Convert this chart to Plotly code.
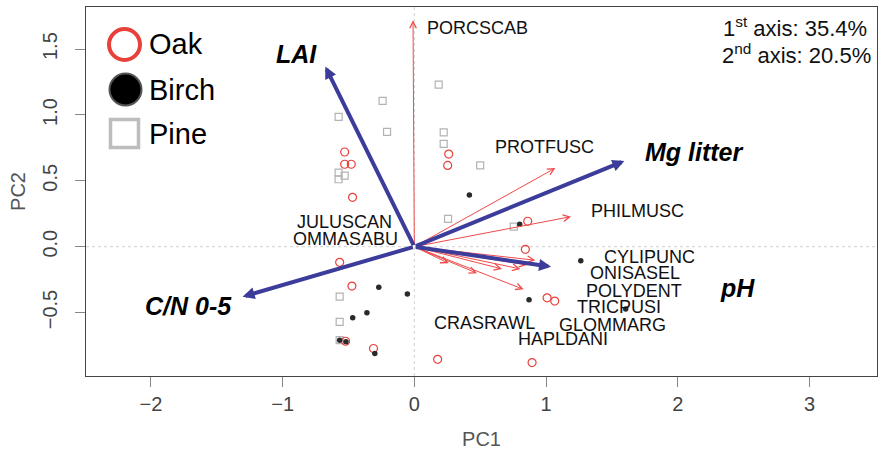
import plotly.graph_objects as go

# ---------------- data ----------------
oak_x = [-0.529, -0.529, -0.479, -0.469, 0.261, 0.253, 0.861, 0.843, 1.008, 1.066,
         -0.567, -0.474, -0.522, -0.310, 0.177, 0.894]
oak_y = [0.719, 0.626, 0.626, 0.375, 0.703, 0.617, 0.193, -0.020, -0.388, -0.413,
         -0.119, -0.299, -0.718, -0.773, -0.855, -0.880]

birch_x = [0.418, 0.800, 1.264, 0.871, -0.053, 1.605, -0.270, -0.360, -0.468, -0.567, -0.519, -0.300]
birch_y = [0.393, 0.170, -0.106, -0.403, -0.360, -0.473, -0.309, -0.502, -0.540, -0.710, -0.722, -0.811]

pine_x = [-0.241, -0.575, -0.207, -0.575, -0.529, -0.575, 0.185, 0.223, 0.223, 0.500,
          0.256, 0.755, -0.567, -0.567, -0.567]
pine_y = [1.107, 0.986, 0.872, 0.562, 0.540, 0.512, 1.230, 0.868, 0.780, 0.617,
          0.211, 0.152, -0.380, -0.571, -0.710]

species = ["PORCSCAB", "PROTFUSC", "PHILMUSC", "JULUSCAN", "OMMASABU", "CYLIPUNC",
           "ONISASEL", "POLYDENT", "TRICPUSI", "GLOMMARG", "HAPLDANI", "CRASRAWL"]
species_x = [-0.010, 1.071, 1.190, -0.020, -0.020, 0.919, 0.856, 0.805, 0.666, 0.830, 0.476, 0.261]
species_y = [1.720, 0.597, 0.228, 0.010, -0.005, -0.103, -0.139, -0.169, -0.169, -0.324, -0.202, -0.126]
species_label_x = [0.478, 0.989, 1.696, -0.531, -0.524, 1.788, 1.678, 1.667, 1.554, 1.503, 1.131, 0.532]
species_label_y = [1.660, 0.755, 0.274, 0.190, 0.055, -0.081, -0.202, -0.337, -0.461, -0.595, -0.704, -0.582]

env = ["LAI", "Mg litter", "C/N 0-5", "pH"]
env_x = [-0.676, 1.595, -1.304, 1.038]
env_y = [1.368, 0.651, -0.380, -0.152]
env_label_x = [-0.896, 2.126, -1.711, 2.456]
env_label_y = [1.464, 0.722, -0.451, -0.316]

axis_var = [35.4, 20.5]

# ---------------- styling ----------------
FONT = "Liberation Sans, Arial, Helvetica, sans-serif"
RED = "#e8413c"
ARROW_RED = "#ef4a4a"
BLUE = "#3c3c9a"
XR = [-2.493, 3.513]
YR = [-0.982, 1.820]
W, H = 880, 453
ML, MR, MT, MB = 86, 3, 7, 77
PW, PH = W - ML - MR, H - MT - MB


def px(x):
    return (x - ML) / PW


def py(y):
    return 1 - (y - MT) / PH


fig = go.Figure()

fig.add_trace(go.Scatter(x=pine_x, y=pine_y, mode="markers", name="Pine",
                         marker=dict(symbol="square-open", size=7, color="#b3b3b3",
                                     line=dict(width=1.2, color="#b3b3b3"))))
fig.add_trace(go.Scatter(x=oak_x, y=oak_y, mode="markers", name="Oak",
                         marker=dict(symbol="circle-open", size=8, color=RED,
                                     line=dict(width=1.2, color=RED))))
fig.add_trace(go.Scatter(x=birch_x, y=birch_y, mode="markers", name="Birch",
                         marker=dict(symbol="circle", size=5.5, color="#2a2a2a",
                                     line=dict(width=0))))

shapes = [
    dict(type="line", xref="x", yref="paper", x0=0, x1=0, y0=0, y1=1,
         line=dict(color="#d2d2d2", width=1, dash="dot"), layer="below"),
    dict(type="line", xref="paper", yref="y", x0=0, x1=1, y0=0, y1=0,
         line=dict(color="#d2d2d2", width=1, dash="dot"), layer="below"),
]

annotations = []
# species arrows
for name, sx, sy in zip(species, species_x, species_y):
    if (sx ** 2 + sy ** 2) ** 0.5 < 0.05:
        continue
    annotations.append(dict(x=sx, y=sy, ax=0, ay=0, xref="x", yref="y", axref="x", ayref="y",
                            text="", showarrow=True, arrowhead=5, arrowsize=1.3,
                            arrowwidth=1, arrowcolor=ARROW_RED, standoff=0))
# env arrows
for name, ex, ey in zip(env, env_x, env_y):
    annotations.append(dict(x=ex, y=ey, ax=0, ay=0, xref="x", yref="y", axref="x", ayref="y",
                            text="", showarrow=True, arrowhead=2, arrowsize=0.6,
                            arrowwidth=4, arrowcolor=BLUE, standoff=0))
# species labels
for name, lx, ly in zip(species, species_label_x, species_label_y):
    annotations.append(dict(x=lx, y=ly, xref="x", yref="y", text=name, showarrow=False,
                            font=dict(family=FONT, size=18, color="#111111")))
# env labels
for name, lx, ly in zip(env, env_label_x, env_label_y):
    annotations.append(dict(x=lx, y=ly, xref="x", yref="y", text="<b><i>%s</i></b>" % name,
                            showarrow=False, font=dict(family=FONT, size=25, color="#000000")))

# variance explained text
annotations.append(dict(x=px(795), y=py(27), xref="paper", yref="paper",
                        text="1<sup>st</sup> axis: %.1f%%" % axis_var[0], showarrow=False,
                        xanchor="center", yanchor="middle",
                        font=dict(family=FONT, size=22, color="#111111")))
annotations.append(dict(x=px(796), y=py(54), xref="paper", yref="paper",
                        text="2<sup>nd</sup> axis: %.1f%%" % axis_var[1], showarrow=False,
                        xanchor="center", yanchor="middle",
                        font=dict(family=FONT, size=22, color="#111111")))

# custom legend
leg = [("Oak", 44.5), ("Birch", 89.5), ("Pine", 133.5)]
cx = 124.5
r = 15.5
shapes.append(dict(type="circle", xref="paper", yref="paper",
                   x0=px(cx - r), x1=px(cx + r), y0=py(44.5 + r), y1=py(44.5 - r),
                   line=dict(color=RED, width=4)))
shapes.append(dict(type="circle", xref="paper", yref="paper",
                   x0=px(cx + 1 - 16), x1=px(cx + 1 + 16), y0=py(89.5 + 16), y1=py(89.5 - 16),
                   fillcolor="#000000", line=dict(color="#555555", width=2)))
shapes.append(dict(type="rect", xref="paper", yref="paper",
                   x0=px(cx - 14), x1=px(cx + 14), y0=py(133.5 + 14), y1=py(133.5 - 14),
                   line=dict(color="#bdbdbd", width=3.5)))
for label, yy in leg:
    annotations.append(dict(x=px(147), y=py(yy), xref="paper", yref="paper", text=label,
                            showarrow=False, xanchor="left", yanchor="middle",
                            font=dict(family=FONT, size=29, color="#000000")))

axis_common = dict(showgrid=False, zeroline=False, showline=True, mirror=True,
                   linecolor="#444444", linewidth=1, ticks="outside", ticklen=10,
                   tickcolor="#888888", tickwidth=1,
                   tickfont=dict(family=FONT, size=20, color="#444444"),
                   title_font=dict(family=FONT, size=20, color="#555555"))

fig.update_layout(
    width=W, height=H,
    margin=dict(l=ML, r=MR, t=MT, b=MB),
    paper_bgcolor="white", plot_bgcolor="white",
    showlegend=False,
    xaxis=dict(range=XR, tickvals=[-2, -1, 0, 1, 2, 3], title=dict(text="PC1", standoff=17),
               **axis_common),
    yaxis=dict(range=YR, tickvals=[-0.5, 0, 0.5, 1.0, 1.5], ticktext=["−0.5", "0.0", "0.5", "1.0", "1.5"],
               tickangle=-90, ticklabelstandoff=10, title=dict(text="PC2", standoff=8),
               **axis_common),
    shapes=shapes,
    annotations=annotations,
)

fig.write_html("out.html")
